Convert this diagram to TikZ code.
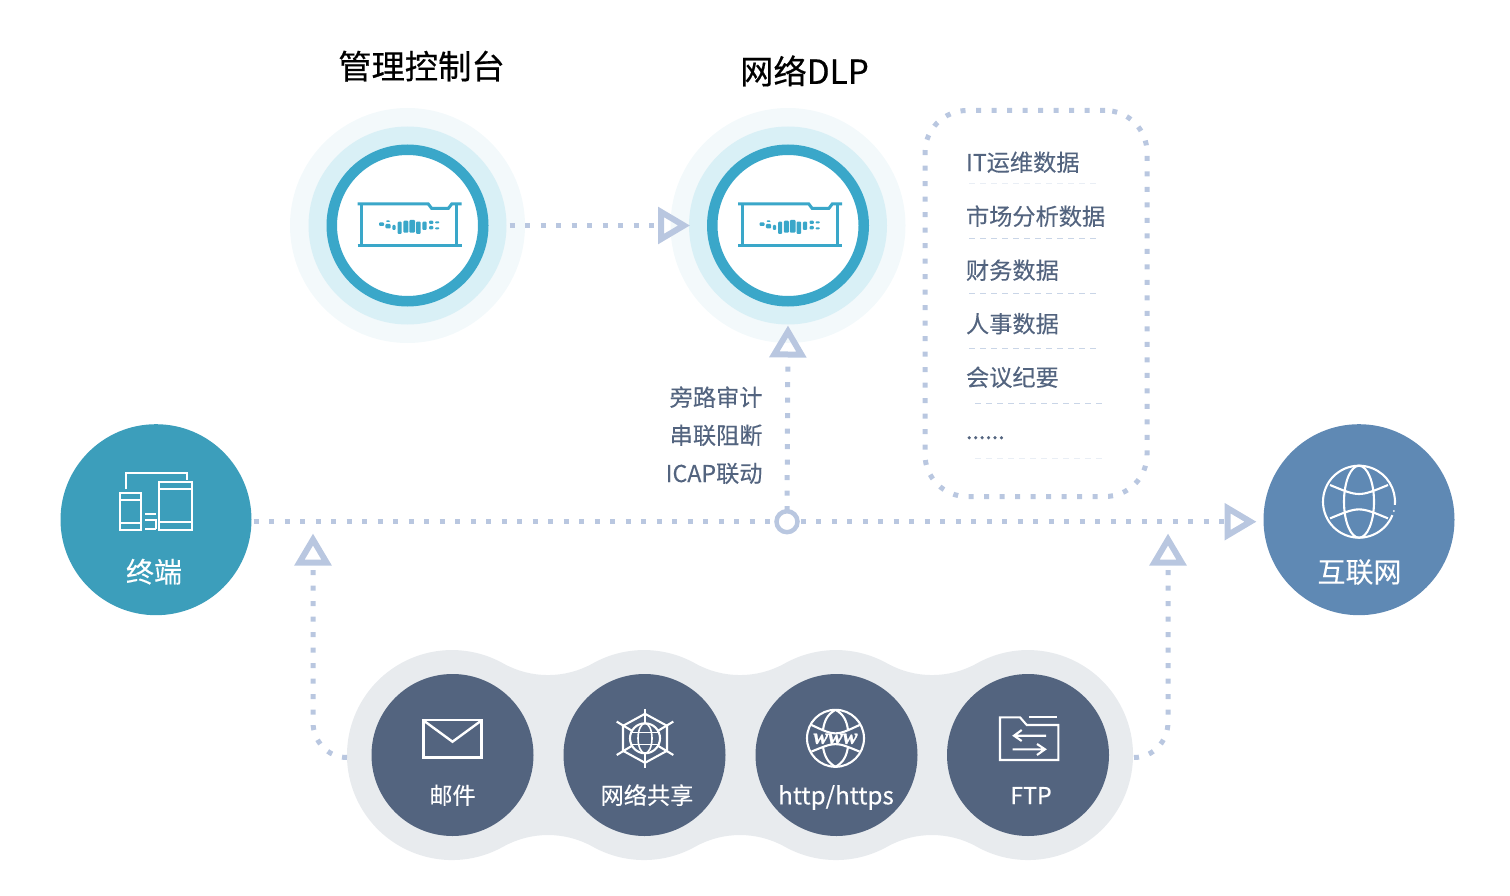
\documentclass[tikz,border=0pt]{standalone}
\usepackage{fontspec}
\setmainfont{Noto Sans CJK SC}[FakeBold=0.18]
\usetikzlibrary{arrows.meta,calc}
\definecolor{dotblue}{HTML}{B9C7E0}
\definecolor{inkslate}{HTML}{53647F}
\definecolor{lobegrey}{HTML}{E8EBEE}
\definecolor{teal}{HTML}{3C9EBB}
\definecolor{steel}{HTML}{5F89B4}
\definecolor{ringblue}{HTML}{3AA7C9}
\definecolor{haloa}{HTML}{F3F9FB}
\definecolor{halob}{HTML}{D9F0F6}
\definecolor{sepa}{HTML}{C9D5E7}
\definecolor{sepb}{HTML}{E9EEF5}
\tikzset{
  disc/.style 2 args={circle,fill=#1,minimum size=#2,inner sep=0pt,outer sep=0pt},
  sz/.style={font=\fontsize{#1}{#1}\selectfont,text height=0.88*#1 pt,text depth=0.12*#1 pt,inner sep=0pt,outer sep=0pt},
  dotline/.style={draw=dotblue,line width=5pt,dash pattern=on 5pt off 10.5pt},
  hollowtip/.style={-{Triangle[open,length=32pt,width=36pt,line width=6pt]}},
  seppale/.style={draw=#1,line width=1pt,dash pattern=on 6pt off 5pt},
  listtext/.style={sz=23.2,text=inkslate,anchor=west},
  sidetext/.style={sz=23.2,text=inkslate,anchor=east},
  chiptext/.style={sz=23.2,text=white},
  bigtext/.style={sz=28,text=white},
  titletext/.style={sz=33.3,text=black},
  iconline/.style={draw=white,line width=2.1pt},
  pics/nic/.style={code={
    \draw[ringblue,line width=3pt] (-49.8,-21.5) -- (20.8,-21.5) -- (24.2,-17) -- (40.8,-17) -- (44.2,-21.5) -- (54.2,-21.5);
    \draw[ringblue,line width=3pt] (-49.8,20.5) -- (54.2,20.5);
    \draw[ringblue,line width=2.7pt] (-45.8,-21.5) -- (-45.8,20.5) (49.2,-21.5) -- (49.2,20.5);
    \foreach \a/\b/\c/\d in {-28.5/-3.2/-23.5/0.5,-21.5/-5.2/-17.5/-3.5,-22.2/-1.5/-16.8/2.8,-15.2/-0.5/-11.8/4.5,-9.8/-3.8/-5.8/8.5,-4.2/-4.8/0.8/7.2,1.8/-5.5/7.5/7.2,8.5/-3.8/13.2/8.5,14.8/-3.8/19.2/4.5,21.5/-4.8/25.8/-1.5,21.5/0.5/25.8/3.8,27.5/-4.2/31.8/-2.2,27.5/1.8/31.8/3.8}
      \fill[ringblue,rounded corners=1pt] (\a,\b) rectangle (\c,\d);
  }},
  pics/devices/.style={code={
    \draw[iconline] (126,489.3) -- (126,473.3) -- (187.3,473.3) -- (187.3,480);
    \draw[iconline] (159.3,482.3) rectangle (192.3,530) (159.3,489) -- (192.3,489) (159.3,521.7) -- (192.3,521.7);
    \draw[iconline] (119.7,493.3) rectangle (141,530) (119.7,500) -- (141,500) (119.7,523.3) -- (141,523.3);
    \draw[iconline] (145,514) -- (156,514) (145,520) -- (156,520) -- (156,529) (145,529) -- (156,529);
  }},
}
\begin{document}
\begin{tikzpicture}[x=1pt,y=-1pt]
\useasboundingbox (0,0) rectangle (1510,896);

% halo rings
\node[disc={haloa}{235pt}] (consoleHalo) at (407.5,225.5) {};
\node[disc={halob}{198pt}] (consoleMid) at (407.5,225.5) {};
\node[circle,draw=ringblue,fill=white,line width=10.5pt,minimum size=151.5pt,inner sep=0pt,outer sep=0pt] (consoleRing) at (407.5,225.5) {};
\node[disc={haloa}{235pt}] (dlpHalo) at (788,225.5) {};
\node[disc={halob}{198pt}] (dlpMid) at (788,225.5) {};
\node[circle,draw=ringblue,fill=white,line width=10.5pt,minimum size=151.5pt,inner sep=0pt,outer sep=0pt] (dlpRing) at (788,225.5) {};
\pic at (407.5,225.5) {nic};
\pic at (788,225.5) {nic};

\node[titletext] (consoleTitle) at (421.5,66.2) {\addfontfeature{FakeBold=0.5}管理控制台};
\node[titletext] (dlpTitle) at (804.5,71.2) {\addfontfeature{FakeBold=0.5}网络DLP};

% side nodes
\node[disc={teal}{191pt}] (terminal) at (156,519.7) {};
\node[disc={steel}{191pt}] (internet) at (1359,519.7) {};

% lobed band
\fill[lobegrey] (503.2,846.7)
  arc[start angle=-60.8,end angle=-299.2,radius=105pt]
  arc[start angle=240.8,end angle=299.2,radius=91.8pt]
  arc[start angle=119.2,end angle=60.8,radius=105pt]
  arc[start angle=240.8,end angle=299.2,radius=91.8pt]
  arc[start angle=119.2,end angle=60.8,radius=105pt]
  arc[start angle=240.8,end angle=299.2,radius=91.8pt]
  arc[start angle=119.2,end angle=-119.2,radius=105pt]
  arc[start angle=60.8,end angle=119.2,radius=91.8pt]
  arc[start angle=-60.8,end angle=-119.2,radius=105pt]
  arc[start angle=60.8,end angle=119.2,radius=91.8pt]
  arc[start angle=-60.8,end angle=-119.2,radius=105pt]
  arc[start angle=60.8,end angle=119.2,radius=91.8pt]
  -- cycle;

\node[disc={inkslate}{162pt}] (mail) at (452.5,755) {};
\node[disc={inkslate}{162pt}] (share) at (644.5,755) {};
\node[disc={inkslate}{162pt}] (web) at (836.5,755) {};
\node[disc={inkslate}{162pt}] (ftp) at (1028,755) {};

% connectors
\coordinate (lobeL) at (347,757.5);
\coordinate (bendL) at (313,722);
\coordinate (upL) at (313,533.5);
\coordinate (lobeR) at (1134,757.5);
\coordinate (bendR) at (1168,722);
\coordinate (upR) at (1168,533.5);
\node[circle,draw=dotblue,fill=white,line width=4.5pt,minimum size=21pt,inner sep=0pt,outer sep=0pt] (jct) at (787,521.7) {};

\draw[dotline,hollowtip,shorten <=3pt,shorten >=-1pt] (consoleMid.east) -- (dlpMid.west);
\draw[dotline,shorten <=2pt] (terminal.east |- jct) -- (jct.west);
\draw[dotline,hollowtip,shorten <=3pt,shorten >=7pt] (jct.east) -- (internet.west |- jct);
\draw[dotline,hollowtip,shorten >=1pt] (jct.north) -- (dlpMid.south);
\draw[dotline,hollowtip] (lobeL) to[out=180,in=-90] (bendL) -- (upL);
\draw[dotline,hollowtip] (lobeR) to[out=0,in=-90] (bendR) -- (upR);

% list box
\node[draw=dotblue,line width=5pt,dash pattern=on 5pt off 10.5pt,rounded corners=42pt,minimum width=222pt,minimum height=386pt,inner sep=0pt] (dataBox) at (1036,303.5) {};
\node[listtext] (l1) at (966,162.2) {IT运维数据};
\node[listtext] (l2) at (966,216.2) {市场分析数据};
\node[listtext] (l3) at (966,270.2) {财务数据};
\node[listtext] (l4) at (966,323.7) {人事数据};
\node[listtext] (l5) at (966,377.2) {会议纪要};
\node[listtext] (l6) at (966,430.2) {\addfontfeature{FakeBold=0.6}......};
\coordinate (s1a) at (969,184); \coordinate (s1b) at (1100,184);
\coordinate (s2a) at (969,239); \coordinate (s2b) at (1100,239);
\coordinate (s3a) at (969,293.5); \coordinate (s3b) at (1100,293.5);
\coordinate (s4a) at (969,348); \coordinate (s4b) at (1100,348);
\coordinate (s5a) at (975,403); \coordinate (s5b) at (1106,403);
\coordinate (s6a) at (975,458); \coordinate (s6b) at (1106,458);
\draw[seppale=sepb] (s1a) -- (s1b);
\draw[seppale=sepa] (s2a) -- (s2b);
\draw[seppale=sepa] (s3a) -- (s3b);
\draw[seppale=sepa] (s4a) -- (s4b);
\draw[seppale=sepa] (s5a) -- (s5b);
\draw[seppale=sepb] (s6a) -- (s6b);

% side labels
\node[sidetext] (m1) at (762.5,397.2) {旁路审计};
\node[sidetext] (m2) at (762.5,435.2) {串联阻断};
\node[sidetext] (m3) at (762.5,473.2) {ICAP联动};

% big circle labels and icons
\node[bigtext] (termLabel) at (154,571.7) {终端};
\node[bigtext] (netLabel) at (1359.5,571.7) {互联网};
\pic {devices};
\begin{scope}[shift={(1359pt,-501.7pt)}]
  \draw[iconline] (-22:36pt) arc[start angle=-22,end angle=-365,radius=36pt];
  \fill[white] (-15:36pt) circle (1pt);
  \draw[iconline] (0,0) ellipse [x radius=15pt,y radius=36pt];
  \draw[iconline] (-29,-16.7) .. controls (0,-4.7) .. (29,-16.7);
  \draw[iconline] (-29,16.7) .. controls (0,4.7) .. (29,16.7);
\end{scope}

% chip labels
\node[chiptext] (mailLabel) at (452.5,795.2) {邮件};
\node[chiptext] (shareLabel) at (647,795.2) {网络共享};
\node[chiptext,sz=24.2] (webLabel) at (836,795.2) {http/https};
\node[chiptext] (ftpLabel) at (1031,795.2) {FTP};

% mail icon
\draw[draw=white,line width=2.6pt] (423.5,720) rectangle (481.5,757.5);
\draw[draw=white,line width=2.4pt] (423.5,720.5) -- (452.5,741.7) -- (481.5,720.5);

% share icon
\begin{scope}[shift={(645pt,-738.3pt)}]
  \draw[iconline] (0,0) circle (15pt);
  \draw[iconline,line width=1.6pt] (0,0) ellipse [x radius=7pt,y radius=15pt];
  \draw[iconline,line width=1.6pt] (-13.5,-6) -- (13.5,-6) (-13.5,6) -- (13.5,6);
  \draw[iconline] (0,-24.5) -- (22,-12.5) -- (22,12.5) -- (0,24.5) -- (-22,12.5) -- (-22,-12.5) -- cycle;
  \draw[iconline] (0,-29.5) -- (0,-15) (0,15) -- (0,29.5);
  \draw[iconline] (-28.3,-16.7) -- (-13,-7.5) (28.3,-16.7) -- (13,-7.5) (-28.3,16.7) -- (-13,7.5) (28.3,16.7) -- (13,7.5);
\end{scope}

% www icon
\begin{scope}[shift={(835.5pt,-738.3pt)}]
  \draw[iconline] (0,0) circle (28.5pt);
  \draw[iconline] (-24,-13.3) .. controls (0,-2.1) .. (24,-13.3);
  \draw[iconline] (-24,13.3) .. controls (0,3.3) .. (24,13.3);
  \draw[iconline] (0,-28.5) .. controls (-8,-24) and (-11,-18) .. (-12.5,-8.5);
  \draw[iconline] (0,-28.5) .. controls (8,-24) and (11,-18) .. (12.5,-8.5);
  \draw[iconline] (0,28.5) .. controls (-8,24) and (-11,18) .. (-12.5,8.5);
  \draw[iconline] (0,28.5) .. controls (8,24) and (11,18) .. (12.5,8.5);
  \node[text=white,inner sep=0pt] (wwwText) at (0,0.5) {\fontspec{Liberation Serif}[ItalicFont={Liberation Serif Bold Italic},FakeBold=1.2]\fontsize{22}{22}\selectfont\itshape www};
\end{scope}

% ftp icon
\draw[iconline] (1000,717.3) -- (1020,717.3) -- (1026.7,725) -- (1058.3,725) -- (1058.3,760) -- (1000,760) -- cycle;
\draw[iconline] (1029,717.3) -- (1056.7,717.3);
\draw[iconline] (1046,735.7) -- (1014,735.7) (1021.7,730) -- (1014,735.7) -- (1021.7,741);
\draw[iconline] (1012.7,749.3) -- (1045,749.3) (1037,744) -- (1045,749.3) -- (1037,755);
\end{tikzpicture}
\end{document}
